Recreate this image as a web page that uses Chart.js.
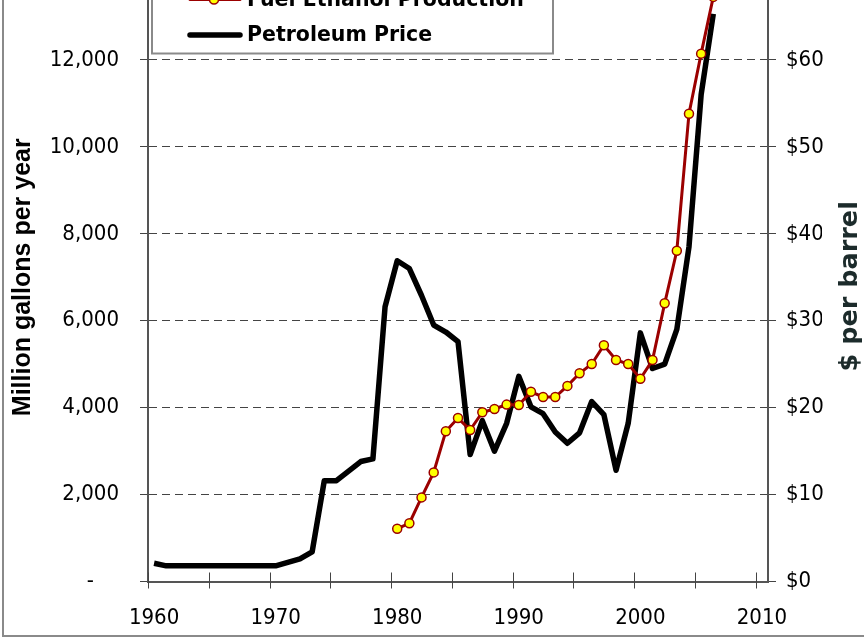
<!DOCTYPE html>
<html>
<head>
<meta charset="utf-8">
<script src="https://cdn.jsdelivr.net/npm/chart.js@4"></script>
<style>
  html, body { margin: 0; padding: 0; background: #fff; overflow: hidden; }
  #wrap { position: relative; width: 864px; height: 640px; overflow: hidden; background: #fff; }
  #chart { position: absolute; left: 0; top: -40px; }
</style>
</head>
<body>
<div id="wrap"><canvas id="chart" width="864" height="680"></canvas></div>
<script>
// years 1960 - 2006
const years = [
  1960, 1961, 1962, 1963, 1964, 1965, 1966, 1967, 1968, 1969,
  1970, 1971, 1972, 1973, 1974, 1975, 1976, 1977, 1978, 1979,
  1980, 1981, 1982, 1983, 1984, 1985, 1986, 1987, 1988, 1989,
  1990, 1991, 1992, 1993, 1994, 1995, 1996, 1997, 1998, 1999,
  2000, 2001, 2002, 2003, 2004, 2005, 2006,
];

// million gallons per year (no data before 1980)
const ethanol = [
  null, null, null, null, null, null, null, null, null, null,
  null, null, null, null, null, null, null, null, null, null,
  1215, 1340, 1935, 2510, 3455, 3760, 3485, 3895, 3970, 4070,
  4060, 4365, 4245, 4245, 4500, 4790, 5005, 5435, 5095, 5005,
  4665, 5095, 6400, 7610, 10760, 12145, 13450,
];

// $ per barrel
const petroleum = [
  2.1, 1.8, 1.8, 1.8, 1.8, 1.8, 1.8, 1.8, 1.8, 1.8,
  1.8, 2.2, 2.6, 3.4, 11.6, 11.6, 12.7, 13.8, 14.1, 31.6,
  36.9, 36.0, 32.9, 29.5, 28.7, 27.6, 14.6, 18.5, 15.0, 18.2,
  23.6, 20.1, 19.3, 17.2, 15.9, 17.1, 20.7, 19.2, 12.8, 18.2,
  28.6, 24.5, 25.0, 29.0, 38.5, 56.0, 65.3,
];

const xLabelYears = [1960, 1970, 1980, 1990, 2000, 2010];
const gallonTicks = [0, 2000, 4000, 6000, 8000, 10000, 12000, 14000];
const dollarTicks = [0, 10, 20, 30, 40, 50, 60, 70];

const tickFamily = "'DejaVu Sans Condensed', 'DejaVu Sans', sans-serif";
const boldFont = "'DejaVu Sans', sans-serif";

Chart.defaults.font.family = tickFamily;
Chart.defaults.font.size = 22;
Chart.defaults.color = "#000";

const toPoints = (vals) =>
  years.map((yr, i) => ({ x: yr, y: vals[i] })).filter((p) => p.y !== null);

// no extra room for half-labels at the ends, the layout is fixed
const noPad = (s) => {
  s.paddingTop = 0;
  s.paddingBottom = 0;
  s.paddingLeft = 0;
  s.paddingRight = 0;
};

// x axis: tick marks every 5 years on the category edges (crossing the axis),
// year labels centred on their category
const yearAxis = {
  id: "yearAxis",
  afterDraw(chart) {
    const { ctx, chartArea } = chart;
    const xs = chart.scales.x;
    ctx.save();
    ctx.strokeStyle = "#444";
    ctx.lineWidth = 1;
    for (let v = xs.min; v < xs.max; v += 5) {
      const px = Math.round(xs.getPixelForValue(v)) + 0.5;
      ctx.beginPath();
      ctx.moveTo(px, chartArea.bottom - 9);
      ctx.lineTo(px, chartArea.bottom + 7);
      ctx.stroke();
    }
    ctx.font = "22px " + tickFamily;
    ctx.fillStyle = "#000";
    ctx.textAlign = "center";
    ctx.textBaseline = "middle";
    xLabelYears.forEach((yr) => {
      ctx.fillText(String(yr), xs.getPixelForValue(yr), chartArea.bottom + 36.5);
    });
    // outer chart border
    ctx.strokeStyle = "#8a8a8a";
    ctx.lineWidth = 2;
    ctx.strokeRect(3, -10, chart.width + 20, chart.height - 4 + 10);
    ctx.restore();
  },
};

const rightTitle = {
  id: "rightTitle",
  afterDraw(chart) {
    const { ctx, chartArea } = chart;
    const cy = (chartArea.top + chartArea.bottom) / 2 + 9;
    ctx.save();
    ctx.fillStyle = "#fff";
    ctx.fillRect(822, cy - 92, 50, 184);
    ctx.translate(850, cy);
    ctx.rotate(-Math.PI / 2);
    ctx.font = "bold 25.5px " + boldFont;
    ctx.fillStyle = "#1c2b2b";
    ctx.textAlign = "center";
    ctx.textBaseline = "middle";
    ctx.fillText("$ per barrel", 0, 0);
    ctx.restore();
  },
};

const boxLegend = {
  id: "boxLegend",
  afterDatasetsDraw(chart) {
    const { ctx, chartArea } = chart;
    const left = chartArea.left + 4;
    const top = chartArea.top + 6;
    const right = 553;
    const bottom = chartArea.top + 80.5;
    ctx.save();
    ctx.fillStyle = "#fff";
    ctx.fillRect(left, top, right - left, bottom - top);
    ctx.strokeStyle = "#8a8a8a";
    ctx.lineWidth = 2;
    ctx.strokeRect(left, top, right - left, bottom - top);

    ctx.font = "bold 20.5px " + boldFont;
    ctx.textBaseline = "middle";
    chart.data.datasets.forEach((ds, i) => {
      const y = top + 20.5 + i * 35.5;
      ctx.beginPath();
      ctx.strokeStyle = ds.borderColor;
      ctx.lineWidth = ds.borderWidth;
      ctx.lineCap = "round";
      ctx.moveTo(left + 38, y);
      ctx.lineTo(left + 88, y);
      ctx.stroke();
      if (ds.pointRadius > 0) {
        ctx.beginPath();
        ctx.arc(left + 62, y, ds.pointRadius, 0, Math.PI * 2);
        ctx.fillStyle = ds.pointBackgroundColor;
        ctx.fill();
        ctx.lineWidth = ds.pointBorderWidth;
        ctx.strokeStyle = ds.pointBorderColor;
        ctx.stroke();
      }
      ctx.fillStyle = "#000";
      ctx.fillText(ds.label, left + 95, y + 1);
    });
    ctx.restore();
  },
};

new Chart(document.getElementById("chart"), {
  type: "line",
  data: {
    datasets: [
      {
        label: "Fuel Ethanol Production",
        data: toPoints(ethanol),
        yAxisID: "y",
        borderColor: "#9b0000",
        borderWidth: 3,
        pointRadius: 4.5,
        pointBackgroundColor: "#ffff00",
        pointBorderColor: "#9b0000",
        pointBorderWidth: 1.5,
        tension: 0,
      },
      {
        label: "Petroleum Price",
        data: toPoints(petroleum),
        yAxisID: "y2",
        borderColor: "#000000",
        borderWidth: 5.5,
        borderJoinStyle: "round",
        pointRadius: 0,
        tension: 0,
      },
    ],
  },
  options: {
    responsive: false,
    animation: false,
    devicePixelRatio: 1,
    layout: { padding: { top: 13, left: 0, right: 0, bottom: 0 } },
    plugins: {
      legend: { display: false },
      tooltip: { enabled: false },
    },
    scales: {
      x: {
        type: "linear",
        min: 1959.5,
        max: 2010.5,
        afterBuildTicks: (s) => { s.ticks = xLabelYears.map((v) => ({ value: v })); },
        afterFit: (s) => { noPad(s); s.height = 58.5; },
        border: { display: true, color: "#555", width: 2 },
        grid: { display: false },
        ticks: { display: false },
      },
      y: {
        type: "linear",
        position: "left",
        min: 0,
        max: 14000,
        afterBuildTicks: (s) => { s.ticks = gallonTicks.map((v) => ({ value: v })); },
        afterFit: (s) => { noPad(s); s.width = 148; },
        border: { display: true, color: "#555", width: 2, dash: [8, 5] },
        grid: {
          color: (c) => (c.tick && c.tick.value === 0 ? "rgba(0,0,0,0)" : "#444"),
          tickColor: "#444",
          tickLength: 8,
          lineWidth: 1,
        },
        ticks: {
          padding: 21,
          color: "#000",
          font: { family: tickFamily, size: 22 },
          callback: (v) => (v === 0 ? "-\u2007\u2007" : v.toLocaleString("en-US")),
        },
        title: {
          display: true,
          text: "Million gallons per year",
          color: "#000",
          font: { family: "'Liberation Sans', Arial, sans-serif", size: 25, weight: "bold" },
          padding: { top: 8, bottom: 0 },
        },
      },
      y2: {
        type: "linear",
        position: "right",
        min: 0,
        max: 70,
        afterBuildTicks: (s) => { s.ticks = dollarTicks.map((v) => ({ value: v })); },
        afterFit: (s) => { noPad(s); s.width = 96; },
        border: { display: true, color: "#555", width: 2 },
        grid: { drawOnChartArea: false, tickLength: 8, color: "#444" },
        ticks: {
          padding: 10,
          color: "#000",
          font: { family: tickFamily, size: 22 },
          callback: (v) => "$" + v,
        },
      },
    },
  },
  plugins: [boxLegend, yearAxis, rightTitle],
});
</script>
</body>
</html>
